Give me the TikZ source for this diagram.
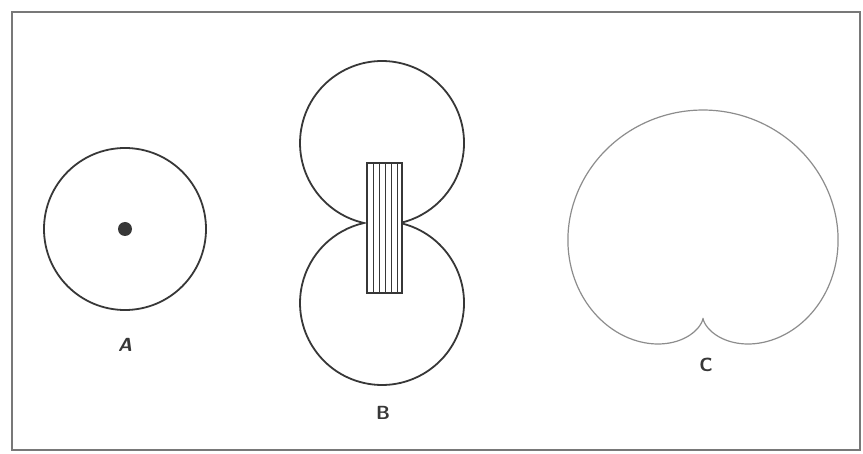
\documentclass[tikz,border=0pt]{standalone}
\usepackage{tikz}
\usetikzlibrary{positioning}
\definecolor{inkgray}{RGB}{55,55,55}
\definecolor{framegray}{RGB}{120,120,120}

\begin{document}
\begin{tikzpicture}[
    x=1pt, y=-1pt,
    pattern/.style={draw=inkgray, line width=1.8pt},
    thinpattern/.style={draw=gray!90, line width=1.2pt},
    frame/.style={draw=framegray, line width=1.6pt},
    label/.style={font=\sffamily\bfseries\fontsize{19}{19}\selectfont, text=inkgray}
]
\useasboundingbox (0,0) rectangle (863,454);
\draw[frame] (12,12) rectangle (860,450);

% A
\draw[pattern] (125,229) circle[radius=81];
\fill[inkgray] (125,229) circle[radius=7];
\node[label] (labA) at (125,345) {\textsl{A}};

% B
\draw[pattern] (364,223) arc[start angle=102.7, end angle=437.3, radius=82]
    arc[start angle=282.7, end angle=617.3, radius=82] -- cycle;
\draw[pattern, fill=white] (367,163) rectangle (402,293);
\foreach \x in {373,379,385,391,397}
    \draw[draw=inkgray, line width=0.9pt] (\x,163) -- (\x,293);
\node[label] (labB) at (383,413) {B};

% C
\draw[thinpattern] plot[domain=0:360, samples=180, smooth]
    ({703+104*(1+sin(\x))*cos(\x)}, {318-104*(1+sin(\x))*sin(\x)}) -- cycle;
\node[label] (labC) at (706,365) {C};
\end{tikzpicture}
\end{document}
